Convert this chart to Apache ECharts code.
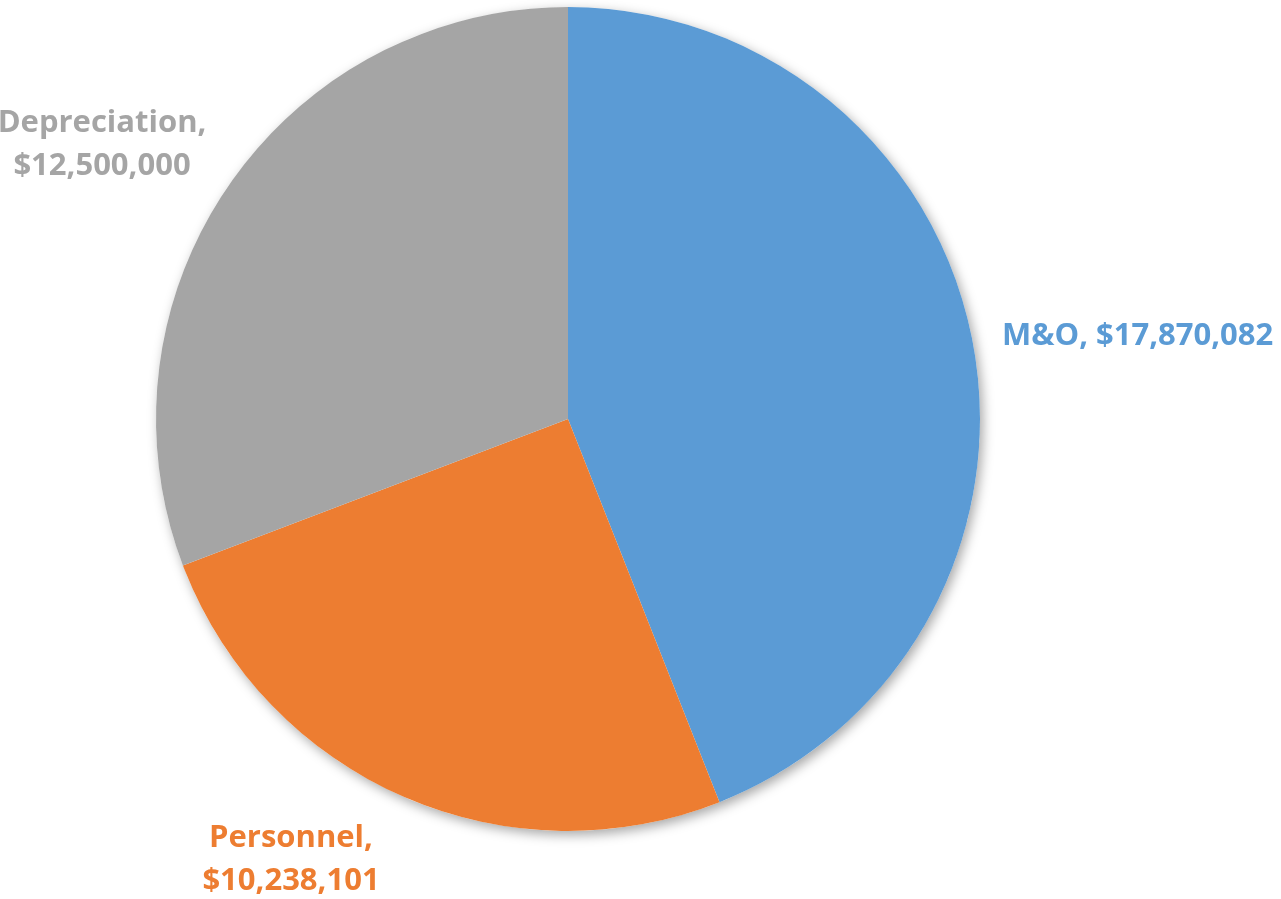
<!DOCTYPE html>
<html>
<head>
<meta charset="utf-8">
<script src="https://cdn.jsdelivr.net/npm/echarts@6/dist/echarts.min.js"></script>
<style>
  html, body { margin: 0; padding: 0; background: #fff; }
  #chart { width: 1281px; height: 899px; }
</style>
</head>
<body>
<div id="chart"></div>
<script>
const categories = ['M&O', 'Personnel', 'Depreciation']
const values = [17870082, 10238101, 12500000]
const colors = ['#5B9BD5', '#ED7D31', '#A5A5A5']

// label anchors, per slice (left/center x, middle y)
const labelSpots = [
    { x: 1002, y: 336, align: 'left' },
    { x: 291, y: 860, align: 'center' },
    { x: 102, y: 145, align: 'center' }
]

const money = v => '$' + v.toLocaleString('en-US')
const total = values.reduce((a, b) => a + b, 0)

const chart = echarts.init(document.getElementById('chart'))
chart.setOption({
    animation: false,
    series: [
        // whole-pie shadow underneath, so slice edges stay clean
        {
            type: 'pie',
            z: 1,
            silent: true,
            center: [568, 419],
            radius: 412,
            data: [{ name: 'all', value: total }],
            itemStyle: {
                color: '#ffffff',
                shadowBlur: 12,
                shadowOffsetX: 3,
                shadowOffsetY: 4,
                shadowColor: 'rgba(0,0,0,0.35)'
            },
            label: { show: false },
            labelLine: { show: false }
        },
        {
            type: 'pie',
            z: 2,
            center: [568, 419],
            radius: 412,
            startAngle: 90,
            clockwise: true,
            data: categories.map((name, i) => ({
                name: name,
                value: values[i],
                itemStyle: { color: colors[i] },
                label: {
                    color: colors[i],
                    formatter: i === 0 ? '{b}, ' + money(values[i]) : '{b},\n' + money(values[i])
                }
            })),
            label: {
                show: true,
                position: 'outside',
                fontFamily: 'Open Sans',
                fontWeight: 'bold',
                fontSize: 31,
                lineHeight: 43,
                overflow: 'none',
                width: 400
            },
            labelLine: { show: false },
            labelLayout: (params) => {
                const s = labelSpots[params.dataIndex]
                return { x: s.x, y: s.y, align: s.align, verticalAlign: 'middle' }
            }
        }
    ]
})
</script>
</body>
</html>
